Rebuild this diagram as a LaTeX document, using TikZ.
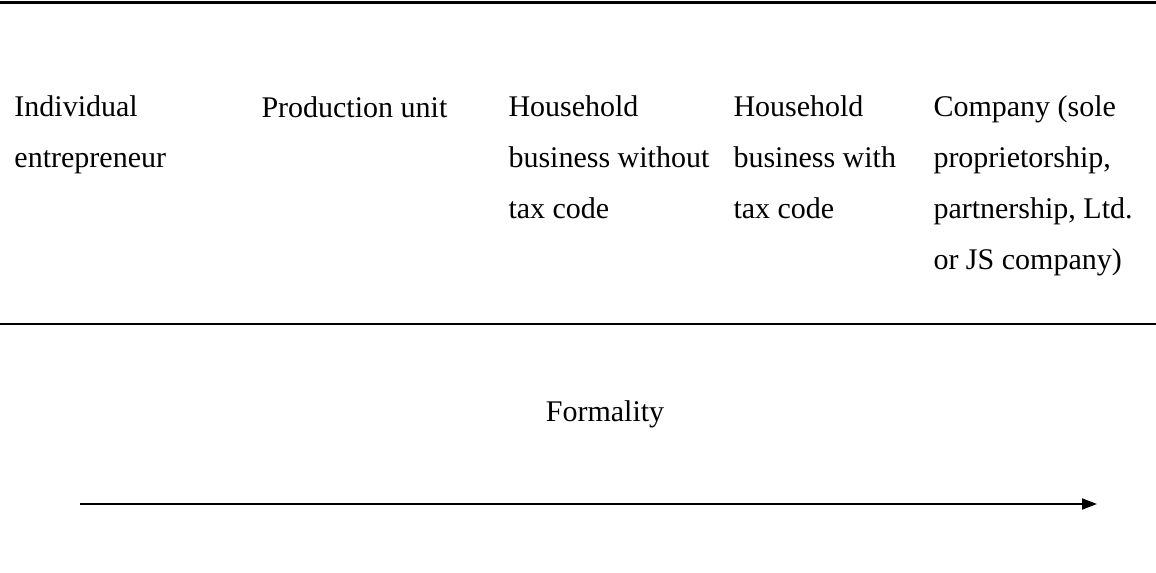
\documentclass[tikz,border=0pt]{standalone}
\usepackage{fontspec}
\setmainfont{Liberation Serif}
\usetikzlibrary{arrows.meta,positioning}

\begin{document}
\begin{tikzpicture}[
  x=0.4pt, y=-0.4pt,
  font=\fontsize{12}{20.3}\selectfont,
  cell/.style={anchor=base west, align=left, inner sep=0pt},
  rule/.style={line width=1.1pt},
  arrow/.style={-{Triangle[length=6pt,width=4.4pt]}, line width=0.8pt}
]
  \useasboundingbox (0,0) rectangle (1156,573);

  % Table rules
  \coordinate (tl) at (0,2.5);
  \coordinate (tr) at (1156,2.5);
  \coordinate (bl) at (0,324);
  \coordinate (br) at (1156,324);
  \draw[rule] (tl) -- (tr);
  \draw[rule] (bl) -- (br);

  % Table cells (placed at the baseline of their last line)
  \node[cell] (ie) at (14,167.7) {Individual\\entrepreneur};
  \node[cell] (pu) at (261,117) {Production unit};
  \node[cell] (hn) at (508,218.4) {Household\\business without\\tax code};
  \node[cell] (hw) at (733,218.4) {Household\\business with\\tax code};
  \node[cell] (co) at (933,269) {Company (sole\\proprietorship,\\partnership, Ltd.\\or JS company)};

  % Formality axis
  \node[anchor=base] (fm) at (605,421) {Formality};
  \coordinate (lo) at (80,504);
  \coordinate (hi) at (1097,504);
  \draw[arrow] (lo) -- (hi);
\end{tikzpicture}
\end{document}
